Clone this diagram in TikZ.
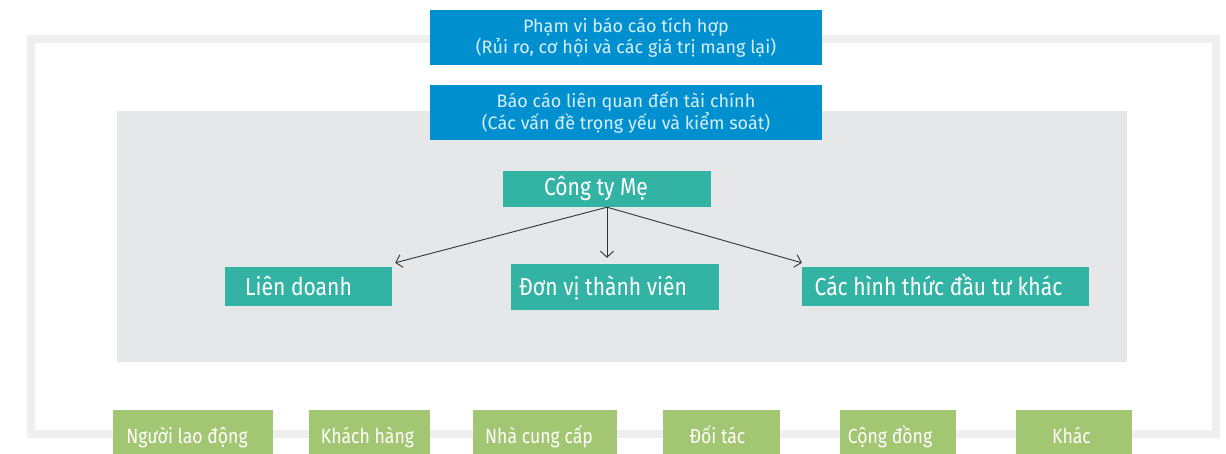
\documentclass[tikz,border=0pt]{standalone}
\usepackage{fontspec}
\setmainfont{Fira Sans}
\newfontfamily\condf{Fira Sans}[FakeStretch=0.86]
\usetikzlibrary{arrows.meta}
\definecolor{frameG}{HTML}{EFEFEF}
\definecolor{areaG}{HTML}{E6E7E8}
\definecolor{blueB}{HTML}{0090D0}
\definecolor{blueT}{HTML}{D8EEF9}
\definecolor{tealB}{HTML}{33B3A4}
\definecolor{greenB}{HTML}{A2C672}
\definecolor{arrowC}{HTML}{333333}
\tikzset{
  bluebox/.style={fill=blueB, text=blueT, inner sep=0pt, align=center,
    minimum width=392pt, minimum height=55pt, font=\fontsize{18}{20.5}\selectfont},
  tealbox/.style={fill=tealB, text=white, inner sep=0pt, text height=20pt, text depth=3pt,
    minimum height=39pt, font=\condf\fontsize{24.5}{28}\selectfont},
  greenbox/.style={fill=greenB, text=white, inner sep=0pt, text height=16pt, text depth=4pt,
    minimum height=54pt, font=\condf\fontsize{20.5}{24}\selectfont},
  conn/.style={draw=arrowC, line width=0.9pt, -{Straight Barb[length=6pt,width=13pt,line width=0.9pt]}}
}
\begin{document}
\begin{tikzpicture}[x=1pt,y=-1pt]
\useasboundingbox (0,0) rectangle (1226,453);
% outer frame
\draw[frameG, line width=8pt] (31,38.5) rectangle (1216,434);
% inner gray area
\fill[areaG] (117,111) rectangle (1127,362);
% blue boxes
\node[bluebox] (scope) at (626,37.5) {Phạm vi báo cáo tích hợp\\(Rủi ro, cơ hội và các giá trị mang lại)};
\node[bluebox] (fin) at (626,112.5) {Báo cáo liên quan đến tài chính\\(Các vấn đề trọng yếu và kiểm soát)};
% teal boxes
\node[tealbox, text depth=8pt, minimum width=208pt, minimum height=36pt] (parent) at (607,189) {Công ty Mẹ\kern22pt};
\node[tealbox, minimum width=167pt] (jv) at (308.5,286.5) {Liên doanh\kern20pt};
\node[tealbox, minimum width=208pt, minimum height=46pt] (member) at (615,287) {Đơn vị thành viên\kern24pt};
\node[tealbox, minimum width=287pt] (other) at (945.5,286.5) {Các hình thức đầu tư khác\kern14pt};
% connectors
\coordinate (tipjv) at ([shift={(3pt,4pt)}]jv.north east);
\coordinate (tipmem) at ([shift={(-8pt,6pt)}]member.north);
\coordinate (tipoth) at ([shift={(0pt,4pt)}]other.north west);
\draw[conn] (parent.south) -- (tipjv);
\draw[conn] (parent.south) -- (tipmem);
\draw[conn] (parent.south) -- (tipoth);
% green boxes
\node[greenbox, minimum width=160pt] (g1) at (193,437) {Người lao động\kern12pt};
\node[greenbox, minimum width=121pt] (g2) at (369.5,437) {Khách hàng\kern4pt};
\node[greenbox, minimum width=144pt] (g3) at (545,437) {Nhà cung cấp\kern12pt};
\node[greenbox, minimum width=117pt] (g4) at (721.5,437) {Đối tác\kern8pt};
\node[greenbox, minimum width=116pt] (g5) at (898,437) {Cộng đồng\kern16pt};
\node[greenbox, minimum width=116pt] (g6) at (1074,437) {Khác\kern5pt};
\end{tikzpicture}
\end{document}
